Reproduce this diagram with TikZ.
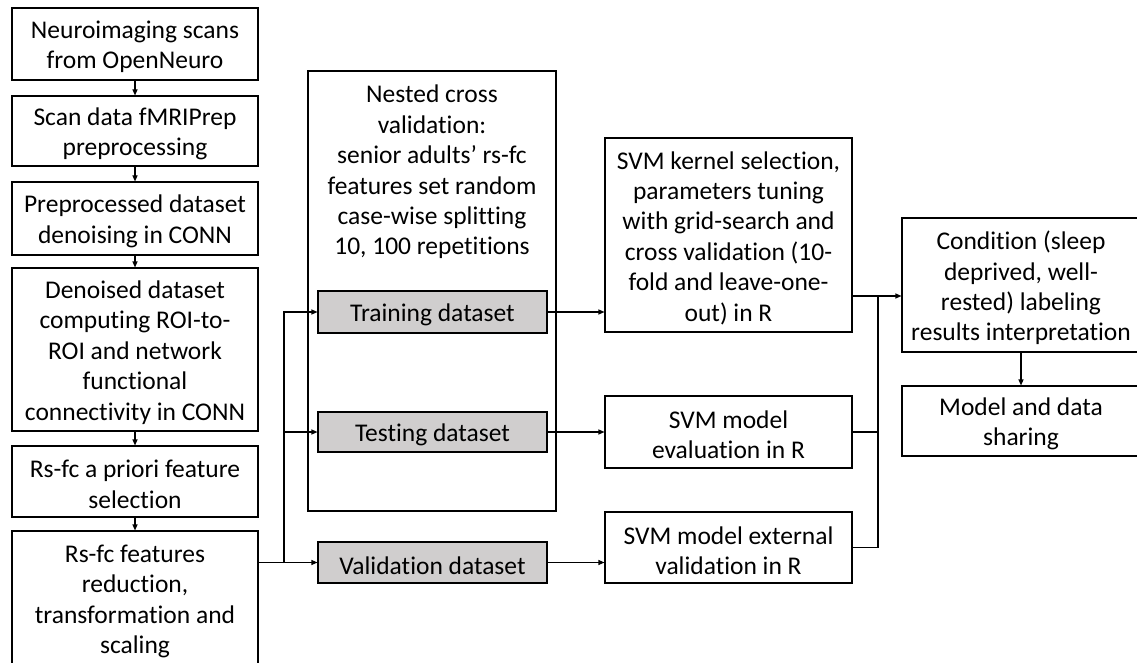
\documentclass[tikz,border=0pt]{standalone}
\usepackage{fontspec}
\setmainfont{Carlito}[Ligatures=NoCommon]
\usetikzlibrary{arrows.meta}
\definecolor{boxgray}{HTML}{D0CECE}
\tikzset{
  txt/.style={font=\fontsize{25.5}{30.4}\selectfont},
  lab/.style={txt, align=center, inner sep=0pt, yshift=-3pt},
  box/.style={draw=black, line width=1.1pt, fill=white, inner sep=0pt},
  gbox/.style={box, fill=boxgray},
  conn/.style={line width=1.1pt, draw=black},
  arr/.style={conn, -{Triangle[length=6pt,width=5pt]}},
}
\begin{document}
\begin{tikzpicture}[x=1pt,y=-1pt]
\useasboundingbox (0,0) rectangle (1137,663);
\clip (0,0) rectangle (1137,663);
% left column
\node[box, minimum width=246pt, minimum height=72pt, label={[lab]center:{Neuroimaging scans\\from OpenNeuro}}] (b1) at (135,44) {};
\node[box, minimum width=246pt, minimum height=70pt, label={[lab]center:{Scan data fMRIPrep\\preprocessing}}] (b2) at (135,131) {};
\node[box, minimum width=246pt, minimum height=73pt, label={[lab]center:{Preprocessed dataset\\denoising in CONN}}] (b3) at (135,218.5) {};
\node[box, minimum width=246pt, minimum height=163pt, label={[lab]center:{Denoised dataset\\computing ROI-to-\\ROI and network\\functional\\connectivity in CONN}}] (b4) at (135,349.5) {};
\node[box, minimum width=246pt, minimum height=71pt, label={[lab]center:{Rs-fc a priori feature\\selection}}] (b5) at (135,481.5) {};
\node[box, minimum width=246pt, minimum height=135pt, label={[lab]center:{Rs-fc features\\reduction,\\transformation and\\scaling}}] (b6) at (135,598.5) {};
\draw[arr] (b1) -- (b2);
\draw[arr] (b2) -- (b3);
\draw[arr] (b3) -- (b4);
\draw[arr] (b4) -- (b5);
\draw[arr] (b5) -- (b6);
% nested CV box
\node[box, fill=none, minimum width=248pt, minimum height=440pt] (nest) at (432,291) {};
\node[anchor=north, align=center, inner sep=0pt, txt] (nesttxt) at (432,85) {Nested cross\\validation:\\senior adults’ rs-fc\\features set random\\case-wise splitting\\10, 100 repetitions};
\node[gbox, minimum width=229pt, minimum height=42pt, label={[lab]center:{Training dataset}}] (train) at (432.5,312) {};
\node[gbox, minimum width=229pt, minimum height=40pt, label={[lab]center:{Testing dataset}}] (test) at (432.5,432) {};
\node[gbox, minimum width=229pt, minimum height=41pt, label={[lab]center:{Validation dataset}}] (valid) at (432.5,562.5) {};
% SVM boxes
\node[box, minimum width=247pt, minimum height=194pt, label={[lab]center:{SVM kernel selection,\\parameters tuning\\with grid-search and\\cross validation (10-\\fold and leave-one-\\out) in R}}] (kernel) at (728.5,235) {};
\node[box, minimum width=247pt, minimum height=72pt, label={[lab]center:{SVM model\\evaluation in R}}] (eval) at (728.5,432) {};
\node[box, minimum width=247pt, minimum height=71pt, label={[lab]center:{SVM model external\\validation in R}}] (ext) at (728.5,547.5) {};
% right column
\node[box, minimum width=238pt, minimum height=134pt, label={[lab]center:{Condition (sleep\\deprived, well-\\rested) labeling\\results interpretation}}] (cond) at (1021,285) {};
\node[box, minimum width=238pt, minimum height=70pt, label={[lab]center:{Model and data\\sharing}}] (model) at (1021,421) {};
\draw[arr] (cond) -- (model);
% split connectors
\coordinate (split) at (284,563);
\draw[arr] (b6.east |- valid.west) -- (valid.west);
\draw[arr] (split) |- (train.west);
\draw[arr] (split |- test.west) -- (test.west);
% to SVM boxes
\draw[arr] (train.east) -- (kernel.west |- train.east);
\draw[arr] (test.east) -- (eval.west);
\draw[arr] (valid.east) -- (ext.west |- valid.east);
% merge
\coordinate (m) at (878,296);
\draw[arr] (kernel.east |- m) -- (cond.west |- m);
\draw[conn] (eval.east) -- (eval.east -| m);
\draw[conn] (ext.east) -| (m);
\end{tikzpicture}
\end{document}
